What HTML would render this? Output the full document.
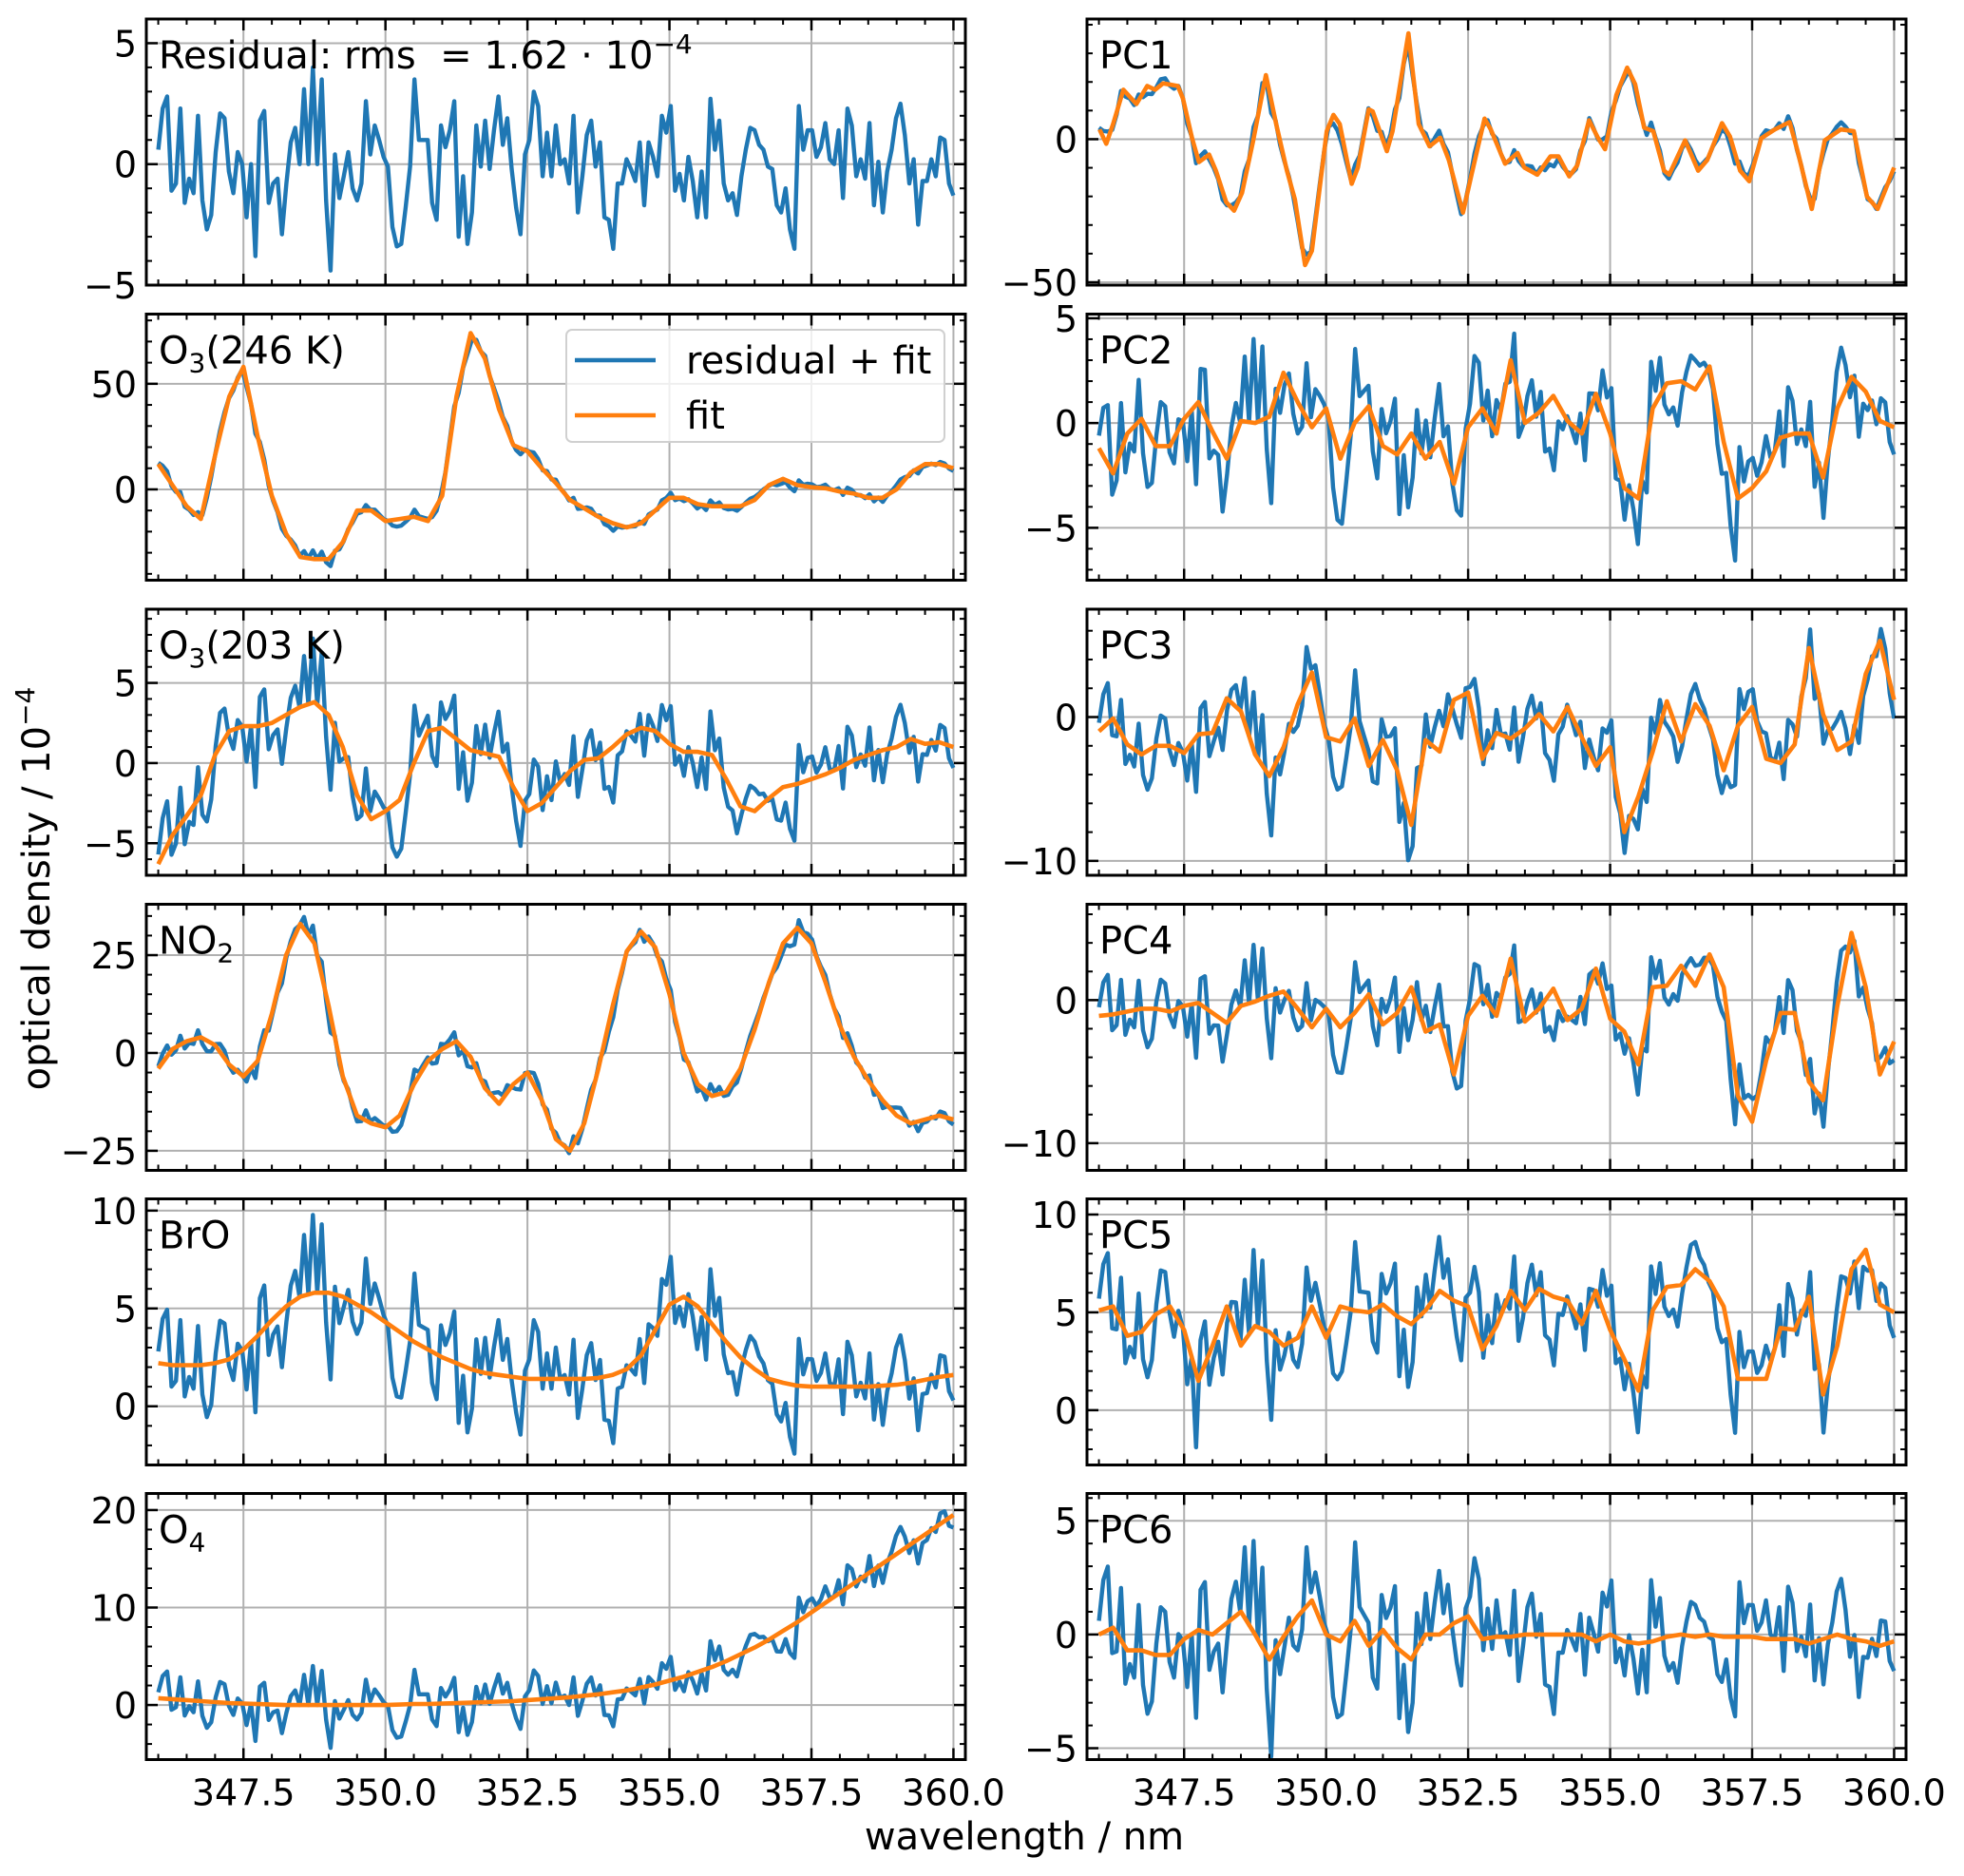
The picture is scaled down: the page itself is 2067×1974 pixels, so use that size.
<!DOCTYPE html>
<html><head><meta charset="utf-8">
<style>
html,body{margin:0;padding:0;background:#fff;}
svg{display:block;font-family:"DejaVu Sans","Liberation Sans",sans-serif;}
</style></head>
<body>
<svg id="fig" width="2067" height="1974" viewBox="0 0 2067 1974" xmlns="http://www.w3.org/2000/svg">
<rect width="2067" height="1974" fill="#fff"/>
<text x="0" y="0" transform="translate(52,935) rotate(-90)" text-anchor="middle" font-size="40">optical density / 10<tspan dy="-16" font-size="28">−4</tspan></text>
<text x="1078" y="1946" text-anchor="middle" font-size="40">wavelength / nm</text>
</svg>
<script>
// ---- data ----
const residual = [0.6,2.3,2.8,-1.1,-0.8,2.3,-1.6,-0.6,-1.2,2.0,-1.5,-2.7,-2.1,0.5,2.1,1.9,-0.3,-1.2,0.5,0,-2.2,0,-3.8,1.8,2.2,-1.6,-0.8,-0.6,-2.9,-0.8,0.9,1.5,0,3.1,0,4.0,0,3.5,-1.5,-4.4,0.4,-1.4,-0.5,0.5,-1.0,-1.5,-0.8,2.6,0.4,1.6,1.0,0.3,-0.1,-2.6,-3.4,-3.3,-1.8,-0.1,3.5,1.0,1.0,1.0,-1.6,-2.3,1.6,0.7,1.4,2.6,-3.0,-0.5,-3.3,-2.0,1.6,-0.1,1.8,-0.2,1.4,2.8,0.8,1.9,-0.2,-1.8,-2.9,0.4,1.0,3.0,2.4,-0.5,1.3,-0.5,1.6,0,0.2,-0.8,2.0,-2.0,-0.5,1.2,1.8,-0.1,0.9,-2.2,-2.3,-3.5,-0.8,-0.8,0.2,-0.2,-0.7,0.9,-1.7,0.9,0.3,-0.5,2.0,1.3,2.4,-1.1,-0.4,-1.5,0.3,-0.7,-2.2,-0.3,-2.2,2.7,0.6,1.8,-0.8,-1.5,-1.2,-2.1,-0.5,0.6,1.5,1.4,0.8,0.6,-0.1,-0.2,-1.7,-2.0,-1.0,-2.7,-3.5,2.4,0.6,1.4,1.4,0.3,0.7,1.7,0.2,0,1.4,-1.4,2.3,1.6,-0.5,0.2,-0.6,1.7,-1.7,0.1,-2.0,-0.3,0.6,1.9,2.5,1.2,-0.8,0.2,-2.5,-0.7,-0.7,0.2,-0.5,1.1,1.0,-0.8,-1.3];
const residualStart = 346.0, residualEnd = 360.0;
const gridStart = 346.0, gridStep = 0.25;

const fitO3warm = [12,2,-8,-14,16,44,58,25,-3,-21,-32,-33,-33,-25,-10,-10,-15,-14,-13,-15,-3,44,74,62,38,21,18,10,3,-5,-9,-13,-16,-18,-16,-10,-4,-4,-7,-8,-8,-8,-5,2,5,2,1,0.5,-1,-2,-4,-4,0,8,12,12,10];
const fitO3cold = [-6.3,-4.5,-3.3,-2,0.5,2,2.3,2.3,2.5,3,3.5,3.8,3,1,-2,-3.5,-3,-2.3,0,2,2.2,1.5,0.8,0.6,0.4,-1.5,-3,-2.5,-1.5,-0.5,0.2,0.3,1,1.8,2.2,2,1.2,0.7,0.7,0.5,-1,-2.7,-3,-2.2,-1.5,-1.3,-1,-0.7,-0.3,0.2,0.5,0.8,1,1.5,1.2,1.3,1];
const fitNO2 = [-4,1,3,4,2,-3,-6,-2,10,25,33,28,12,-6,-16,-18,-19,-16,-8,-2,1,3,-1,-9,-13,-8,-5,-12,-22,-25,-18,-4,12,26,31,27,15,0,-8,-11,-10,-4,6,18,28,32,28,18,7,-1,-7,-12,-16,-18,-17,-16,-17];
const fitBrO = [2.2,2.1,2.1,2.1,2.2,2.4,2.9,3.6,4.4,5.1,5.6,5.8,5.8,5.6,5.2,4.8,4.3,3.8,3.3,2.9,2.5,2.2,1.9,1.7,1.6,1.5,1.4,1.4,1.4,1.4,1.4,1.45,1.6,1.9,2.6,3.9,5.2,5.6,5.1,4.2,3.3,2.5,1.9,1.4,1.2,1.05,1.0,1.0,1.0,1.0,1.0,1.05,1.1,1.2,1.35,1.5,1.6];
const fitO4 = [0.7,0.6,0.5,0.4,0.3,0.2,0.15,0.1,0.05,0,0,0,0,0,0,0,0,0.05,0.1,0.1,0.15,0.2,0.25,0.3,0.35,0.4,0.5,0.6,0.7,0.8,0.95,1.1,1.3,1.5,1.8,2.1,2.5,2.9,3.4,3.9,4.5,5.2,5.9,6.7,7.6,8.5,9.5,10.5,11.5,12.5,13.5,14.5,15.5,16.5,17.5,18.5,19.5];
const fitPC1x = [346.01,346.13,346.25,346.43,346.66,346.85,346.99,347.13,347.39,347.48,347.64,347.76,347.94,348.06,348.24,348.38,348.52,348.71,348.94,349.12,349.31,349.45,349.63,349.75,350.01,350.13,350.24,350.45,350.56,350.75,350.82,351.07,351.17,351.45,351.63,351.82,352.01,352.16,352.41,352.56,352.79,352.90,353.15,353.37,353.49,353.72,353.95,354.09,354.28,354.42,354.63,354.79,354.91,355.11,355.30,355.44,355.60,355.76,355.95,356.04,356.32,356.55,356.71,356.97,357.11,357.29,357.45,357.66,357.90,358.16,358.31,358.55,358.78,359.06,359.29,359.52,359.71,359.85,360.0];
const fitPC1y = [3.4,-1.6,5.3,17.3,12.3,18.6,17.3,19.5,18.6,14.2,0.3,-8,-5.4,-11,-22,-25,-18.7,-1,22.4,5.3,-11,-21,-44,-39,2.8,8.5,5.3,-15.6,-9.9,10.4,9.7,-4.2,2.8,37,5.3,-2.5,0.5,-7.3,-25.7,-12.4,7.2,3.4,-8.6,-4.8,-9.9,-12.4,-6,-6,-13,-9.2,6.6,0.3,-3.5,15.4,25,19.2,4,2.8,-11,-12.4,-0.4,-11,-7.3,5.6,0.9,-11,-14.7,0.3,3.4,6,-4.8,-24.4,-0.4,3.4,2.8,-20,-24.4,-17.5,-9.9];
const fitPC2 = [-1.2,-2.4,-0.5,0.2,-1.1,-1.1,0.2,1.0,-0.4,-1.7,0.1,0,0.3,2.4,1.0,-0.2,0.7,-1.7,0,0.8,-1.1,-1.5,-0.5,-1.7,-0.9,-2.9,-0.2,0.7,-0.5,3.0,0,0.5,1.3,0.1,-0.5,1.4,-0.5,-3.1,-3.6,0.7,1.9,2.0,1.6,2.7,-0.9,-3.6,-3.1,-2.3,-0.7,-0.5,-0.5,-2.6,0.7,2.2,1.5,0.1,-0.2];
const fitPC3 = [-1,-0.1,-1.9,-2.6,-2,-2,-2.5,-1.2,-1.1,1.3,0.4,-2.6,-4.1,-2.1,0.9,3.1,-1.4,-1.7,-0.1,-3.4,-1.6,-3.7,-7.5,-1.6,-2.4,1.2,1.7,-2.9,-1.1,-1.5,-0.8,0.2,-1,0.7,-1.4,-3.4,-2.1,-8,-5.5,-2.4,1.1,-1.7,0.9,-0.6,-3.7,-0.6,0.7,-2.9,-3.2,-1.9,4.8,0.2,-2.3,-1.7,3,5.3,1.2];
const fitPC4 = [-1.1,-1,-0.8,-0.6,-0.6,-0.8,-0.4,-0.2,-0.9,-1.6,-0.4,-0.1,0.3,0.6,-0.6,-1.9,-0.6,-1.9,-0.9,0.4,-1.7,-0.9,0.9,-2.2,-1.7,-5.2,-1.1,0.3,-1.1,2.9,-1.5,-0.6,0.8,-1.4,-0.6,2.2,-1.3,-2.2,-4.5,0.9,1.0,2.4,1.0,3.2,0.9,-6.7,-8.5,-4.2,-0.9,-0.9,-5.7,-7,-0.4,4.7,0.9,-5.2,-2.9];
const fitPC5 = [5.1,5.3,3.8,4,4.9,5.3,4.1,1.5,3.3,5.3,3.3,4.3,4,3.3,3.7,5.3,3.7,5.3,5.1,5,5.4,4.8,4.4,5.1,6.1,5.6,5.3,3.1,4.3,6.1,5.1,6.2,5.8,5.6,4.4,6.1,4.1,2.6,1.0,5.1,6.3,6.4,7.2,6.6,5.3,1.6,1.6,1.6,4.2,4.1,5.8,0.8,3.3,7.2,8.2,5.4,5];
const fitPC6 = [0,0.3,-0.7,-0.7,-0.9,-0.9,-0.2,0.2,0,0.5,1,0,-1.1,-0.1,0.8,1.5,0,-0.3,0.6,-0.5,0.2,-0.6,-1.1,0,0,0.5,0.8,-0.2,-0.1,-0.1,0,0,0,0,0,-0.3,0,-0.3,-0.4,-0.3,-0.1,0,-0.1,0,-0.1,-0.1,-0.1,-0.2,-0.2,-0.2,-0.4,-0.2,0,-0.2,-0.3,-0.5,-0.3];

const xTicks = [347.5,350.0,352.5,355.0,357.5,360.0];
const xTickLabels = ["347.5","350.0","352.5","355.0","357.5","360.0"];

// ---- layout ----
const NS="http://www.w3.org/2000/svg";
const svg=document.getElementById('fig');
const XMIN=345.79, XMAX=360.21;
const colX=[154,1144], PW=862, PH=280;
const rowTop=[20,330.5,641,951.5,1261.5,1571.5];
const BLUE="#1f77b4", ORANGE="#ff7f0e";
const TICKFS=38, LABFS=40;

function mk(tag,attrs,parent){const e=document.createElementNS(NS,tag);for(const k in attrs)e.setAttribute(k,attrs[k]);(parent||svg).appendChild(e);return e;}
function gridX(arr){return arr.map((_,i)=>gridStart+i*gridStep);}
function interp(xs,ys,x){
  if(x<=xs[0])return ys[0];
  for(let i=1;i<xs.length;i++){if(x<=xs[i]){const t=(x-xs[i-1])/(xs[i]-xs[i-1]);return ys[i-1]+t*(ys[i]-ys[i-1]);}}
  return ys[ys.length-1];
}
const resX = residual.map((_,i)=>residualStart+i*(residualEnd-residualStart)/(residual.length-1));

const panels=[
 {name:'residual',col:0,row:0,ylim:[-5,6],major:[-5,0,5],minor:1,fx:null,fy:null,label:'res'},
 {name:'o3-246k',col:0,row:1,ylim:[-43,83],major:[0,50],minor:10,fx:gridX(fitO3warm),fy:fitO3warm,label:'O3w',legend:true},
 {name:'o3-203k',col:0,row:2,ylim:[-7,9.6],major:[-5,0,5],minor:1,fx:gridX(fitO3cold),fy:fitO3cold,label:'O3c'},
 {name:'no2',col:0,row:3,ylim:[-30,38],major:[-25,0,25],minor:5,fx:gridX(fitNO2),fy:fitNO2,label:'NO2'},
 {name:'bro',col:0,row:4,ylim:[-3,10.6],major:[0,5,10],minor:1,fx:gridX(fitBrO),fy:fitBrO,label:'BrO'},
 {name:'o4',col:0,row:5,ylim:[-5.6,21.7],major:[0,10,20],minor:2,fx:gridX(fitO4),fy:fitO4,label:'O4',xlabels:true},
 {name:'pc1',col:1,row:0,ylim:[-51,42],major:[-50,0],minor:10,fx:fitPC1x,fy:fitPC1y,label:'PC1'},
 {name:'pc2',col:1,row:1,ylim:[-7.5,5.2],major:[-5,0,5],minor:1,fx:gridX(fitPC2),fy:fitPC2,label:'PC2'},
 {name:'pc3',col:1,row:2,ylim:[-11,7.5],major:[-10,0],minor:2,fx:gridX(fitPC3),fy:fitPC3,label:'PC3'},
 {name:'pc4',col:1,row:3,ylim:[-11.9,6.7],major:[-10,0],minor:2,fx:gridX(fitPC4),fy:fitPC4,label:'PC4'},
 {name:'pc5',col:1,row:4,ylim:[-2.8,10.8],major:[0,5,10],minor:1,fx:gridX(fitPC5),fy:fitPC5,label:'PC5'},
 {name:'pc6',col:1,row:5,ylim:[-5.5,6.2],major:[-5,0,5],minor:1,fx:gridX(fitPC6),fy:fitPC6,label:'PC6',xlabels:true},
];

panels.forEach((p,pi)=>{
  const L=colX[p.col], T=rowTop[p.row], R=L+PW, B=T+PH;
  const xs=v=>L+(v-XMIN)/(XMAX-XMIN)*PW;
  const ys=v=>B-(v-p.ylim[0])/(p.ylim[1]-p.ylim[0])*PH;
  const g=mk('g',{});
  
  
  const cid='clip'+pi;
  const cp=mk('clipPath',{id:cid},g); mk('rect',{x:L,y:T,width:PW,height:PH},cp);
  xTicks.forEach(t=>{const l=mk('line',{x1:xs(t),x2:xs(t),y1:T,y2:B,stroke:'#b0b0b0','stroke-width':2},g);
    
    });
  p.major.forEach(t=>{const l=mk('line',{x1:L,x2:R,y1:ys(t),y2:ys(t),stroke:'#b0b0b0','stroke-width':2},g);
    
    });
  const sg=mk('g',{'clip-path':'url(#'+cid+')'},g);
  const blueVals=resX.map((x,i)=>residual[i]+(p.fx?interp(p.fx,p.fy,x):0));
  const bpts=resX.map((x,i)=>xs(x).toFixed(1)+','+ys(blueVals[i]).toFixed(1)).join(' ');
  const bl=mk('polyline',{points:bpts,fill:'none',stroke:BLUE,'stroke-width':4.4,'stroke-linejoin':'round'},sg);
  
  
  if(p.fx){
    const opts=p.fx.map((x,i)=>xs(x).toFixed(1)+','+ys(p.fy[i]).toFixed(1)).join(' ');
    const ol=mk('polyline',{points:opts,fill:'none',stroke:ORANGE,'stroke-width':4.6,'stroke-linejoin':'round'},sg);
    
    
  }
  const tg=mk('g',{stroke:'#000'},g);
  for(let v=346.0;v<=360.001;v+=0.5){
    const isMaj=xTicks.some(t=>Math.abs(t-v)<1e-6); const len=isMaj?12:6;
    mk('line',{x1:xs(v),x2:xs(v),y1:B,y2:B-len,'stroke-width':isMaj?2.5:2},tg);
    mk('line',{x1:xs(v),x2:xs(v),y1:T,y2:T+len,'stroke-width':isMaj?2.5:2},tg);
  }
  const y0=Math.ceil(p.ylim[0]/p.minor)*p.minor;
  for(let v=y0;v<=p.ylim[1]+1e-9;v+=p.minor){
    const isMaj=p.major.some(t=>Math.abs(t-v)<1e-6); const len=isMaj?12:6;
    mk('line',{x1:L,x2:L+len,y1:ys(v),y2:ys(v),'stroke-width':isMaj?2.5:2},tg);
    mk('line',{x1:R,x2:R-len,y1:ys(v),y2:ys(v),'stroke-width':isMaj?2.5:2},tg);
  }
  p.major.forEach(t=>{
    const tx=mk('text',{x:L-10,y:ys(t)+14,'text-anchor':'end','font-size':TICKFS},g);
    tx.textContent=(t<0?'−':'')+Math.abs(t);
    
    
  });
  if(p.xlabels){
    xTicks.forEach((t,i)=>{
      const tx=mk('text',{x:xs(t),y:B+48,'text-anchor':'middle','font-size':TICKFS},g);
      tx.textContent=xTickLabels[i];
      
      
    });
  }
  const fr=mk('rect',{x:L,y:T,width:PW,height:PH,fill:'none',stroke:'#000','stroke-width':3},g);
  
  
  const lb=mk('text',{x:L+13,y:T+52,'font-size':LABFS,'xml:space':'preserve'},g);
  
  
  if(p.label==='res'){
    lb.innerHTML='Residual: rms&#160;&#160;= 1.62 · 10<tspan dy="-16" font-size="28">−4</tspan>';
  } else if(p.label==='O3w'){
    lb.innerHTML='O<tspan dy="9" font-size="28">3</tspan><tspan dy="-9">(246 K)</tspan>';
  } else if(p.label==='O3c'){
    lb.innerHTML='O<tspan dy="9" font-size="28">3</tspan><tspan dy="-9">(203 K)</tspan>';
  } else if(p.label==='NO2'){
    lb.innerHTML='NO<tspan dy="9" font-size="28">2</tspan>';
  } else if(p.label==='O4'){
    lb.innerHTML='O<tspan dy="9" font-size="28">4</tspan>';
  } else lb.textContent=p.label;
  if(p.legend){
    const lg=mk('g',{},g);
    
    
    mk('rect',{x:596,y:347,width:398,height:118,rx:6,fill:'#fff','fill-opacity':0.8,stroke:'#d0d0d0','stroke-width':2},lg);
    const e1=mk('line',{x1:605,x2:690,y1:379,y2:379,stroke:BLUE,'stroke-width':4.4},lg);
    
    
    const t1=mk('text',{x:722,y:393,'font-size':LABFS},lg); t1.textContent='residual + fit';
    
    
    const e2=mk('line',{x1:605,x2:690,y1:437,y2:437,stroke:ORANGE,'stroke-width':4.6},lg);
    
    
    const t2=mk('text',{x:722,y:451,'font-size':LABFS},lg); t2.textContent='fit';
    
    
  }
});
</script>
</body></html>
